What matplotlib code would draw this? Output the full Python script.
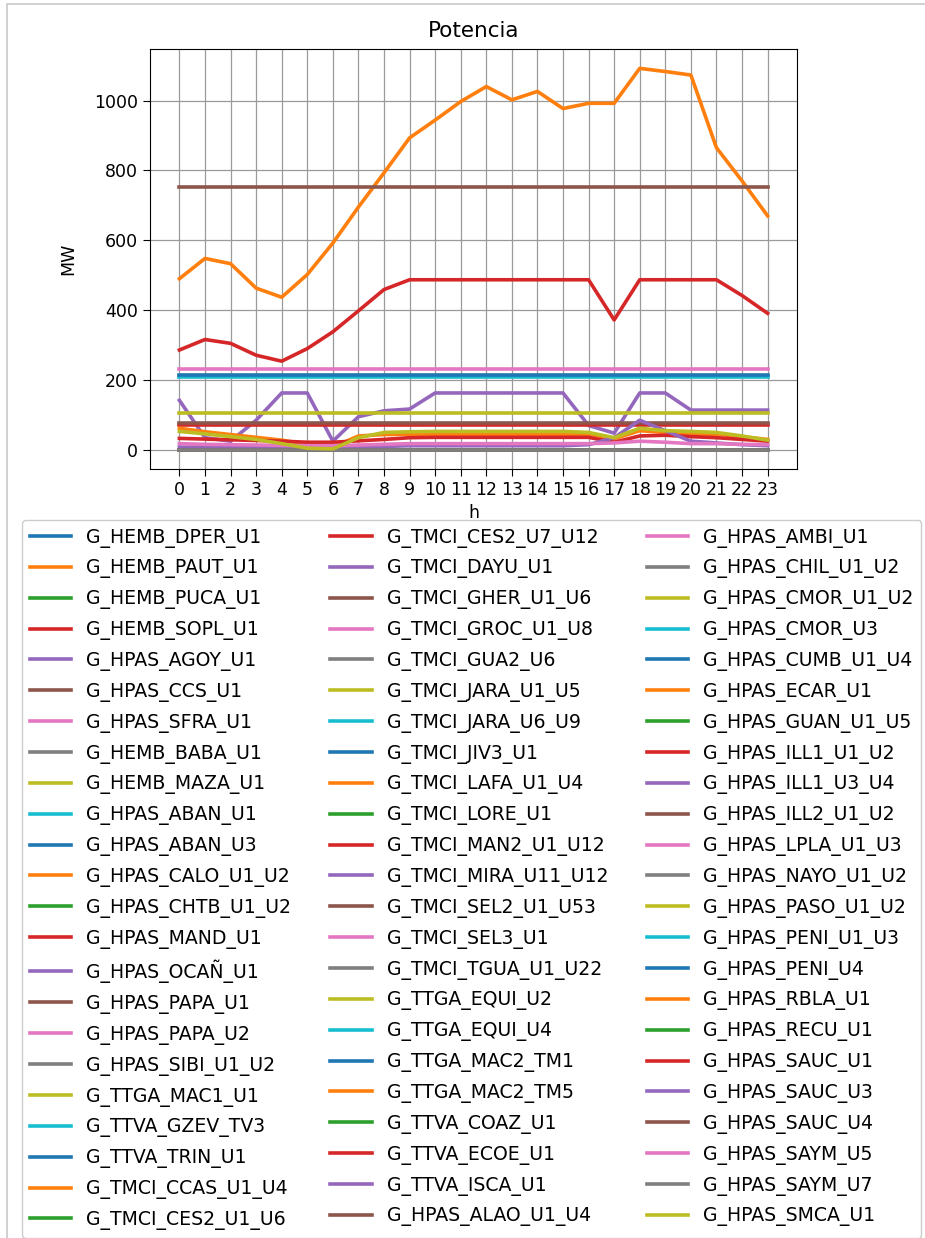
import matplotlib
matplotlib.use("Agg")
import matplotlib.pyplot as plt
from matplotlib.patches import Rectangle

# ---------------- data ----------------
hours = [0, 1, 2, 3, 4, 5, 6, 7, 8, 9, 10, 11, 12, 13, 14, 15, 16, 17, 18, 19, 20, 21, 22, 23]

names = [
    "G_HEMB_DPER_U1", "G_HEMB_PAUT_U1", "G_HEMB_PUCA_U1", "G_HEMB_SOPL_U1", "G_HPAS_AGOY_U1",
    "G_HPAS_CCS_U1", "G_HPAS_SFRA_U1", "G_HEMB_BABA_U1", "G_HEMB_MAZA_U1", "G_HPAS_ABAN_U1",
    "G_HPAS_ABAN_U3", "G_HPAS_CALO_U1_U2", "G_HPAS_CHTB_U1_U2", "G_HPAS_MAND_U1", "G_HPAS_OCAÑ_U1",
    "G_HPAS_PAPA_U1", "G_HPAS_PAPA_U2", "G_HPAS_SIBI_U1_U2", "G_TTGA_MAC1_U1", "G_TTVA_GZEV_TV3",
    "G_TTVA_TRIN_U1", "G_TMCI_CCAS_U1_U4", "G_TMCI_CES2_U1_U6",
    "G_TMCI_CES2_U7_U12", "G_TMCI_DAYU_U1", "G_TMCI_GHER_U1_U6", "G_TMCI_GROC_U1_U8", "G_TMCI_GUA2_U6",
    "G_TMCI_JARA_U1_U5", "G_TMCI_JARA_U6_U9", "G_TMCI_JIV3_U1", "G_TMCI_LAFA_U1_U4", "G_TMCI_LORE_U1",
    "G_TMCI_MAN2_U1_U12", "G_TMCI_MIRA_U11_U12", "G_TMCI_SEL2_U1_U53", "G_TMCI_SEL3_U1", "G_TMCI_TGUA_U1_U22",
    "G_TTGA_EQUI_U2", "G_TTGA_EQUI_U4", "G_TTGA_MAC2_TM1", "G_TTGA_MAC2_TM5", "G_TTVA_COAZ_U1",
    "G_TTVA_ECOE_U1", "G_TTVA_ISCA_U1", "G_HPAS_ALAO_U1_U4",
    "G_HPAS_AMBI_U1", "G_HPAS_CHIL_U1_U2", "G_HPAS_CMOR_U1_U2", "G_HPAS_CMOR_U3", "G_HPAS_CUMB_U1_U4",
    "G_HPAS_ECAR_U1", "G_HPAS_GUAN_U1_U5", "G_HPAS_ILL1_U1_U2", "G_HPAS_ILL1_U3_U4", "G_HPAS_ILL2_U1_U2",
    "G_HPAS_LPLA_U1_U3", "G_HPAS_NAYO_U1_U2", "G_HPAS_PASO_U1_U2", "G_HPAS_PENI_U1_U3", "G_HPAS_PENI_U4",
    "G_HPAS_RBLA_U1", "G_HPAS_RECU_U1", "G_HPAS_SAUC_U1", "G_HPAS_SAUC_U3", "G_HPAS_SAUC_U4",
    "G_HPAS_SAYM_U5", "G_HPAS_SAYM_U7", "G_HPAS_SMCA_U1",
]

zero_mw = [0, 0, 0, 0, 0, 0, 0, 0, 0, 0, 0, 0, 0, 0, 0, 0, 0, 0, 0, 0, 0, 0, 0, 0]

paut = [490, 548, 533, 463, 437, 502, 592, 695, 793, 893, 944, 997,
        1040, 1002, 1026, 977, 992, 992, 1092, 1083, 1073, 865, 770, 670]
sopl = [286, 316, 305, 271, 254, 290, 338, 398, 459, 487, 487, 487,
        487, 487, 487, 487, 487, 372, 487, 487, 487, 487, 442, 391]
ccs = [752, 752, 752, 752, 752, 752, 752, 752, 752, 752, 752, 752,
       752, 752, 752, 752, 752, 752, 752, 752, 752, 752, 752, 752]
sfra = [232, 232, 232, 232, 232, 232, 232, 232, 232, 232, 232, 232,
        232, 232, 232, 232, 232, 232, 232, 232, 232, 232, 232, 232]
trin = [215, 215, 215, 215, 215, 215, 215, 215, 215, 215, 215, 215,
        215, 215, 215, 215, 215, 215, 215, 215, 215, 215, 215, 215]
gzev = [208, 208, 208, 208, 208, 208, 208, 208, 208, 208, 208, 208,
        208, 208, 208, 208, 208, 208, 208, 208, 208, 208, 208, 208]
agoy = [142, 35, 25, 85, 163, 163, 25, 95, 112, 117, 163, 163,
        163, 163, 163, 163, 70, 48, 163, 163, 114, 114, 114, 114]
maza = [106, 106, 106, 106, 106, 106, 106, 106, 106, 106, 106, 106,
        106, 106, 106, 106, 106, 106, 106, 106, 106, 106, 106, 106]
gher = [76, 76, 76, 76, 76, 76, 76, 76, 76, 76, 76, 76,
        76, 76, 76, 76, 76, 76, 76, 76, 76, 76, 76, 76]
mand = [71, 71, 71, 71, 71, 71, 71, 71, 71, 71, 71, 71,
        71, 71, 71, 71, 71, 71, 71, 71, 71, 71, 71, 71]
smca = [53, 46, 38, 30, 18, 5, 3, 35, 50, 52, 53, 53,
        53, 53, 53, 53, 50, 35, 62, 55, 53, 50, 40, 28]
rbla = [62, 52, 44, 36, 28, 16, 8, 40, 44, 45, 45, 45,
        45, 45, 45, 45, 45, 32, 55, 50, 45, 45, 38, 30]
sauc_u1 = [33, 31, 29, 27, 25, 22, 22, 26, 30, 35, 36, 36,
           36, 36, 36, 36, 36, 22, 40, 42, 38, 35, 30, 25]
sauc_u3 = [8, 8, 8, 8, 8, 8, 8, 8, 10, 12, 12, 12,
           12, 12, 12, 12, 15, 35, 85, 55, 25, 20, 15, 12]
saym_u5 = [18, 16, 15, 14, 13, 12, 12, 14, 16, 18, 18, 18,
           18, 18, 18, 18, 18, 20, 25, 22, 18, 18, 16, 15]

series_values = {
    "G_HEMB_PAUT_U1": paut,
    "G_HEMB_SOPL_U1": sopl,
    "G_HPAS_AGOY_U1": agoy,
    "G_HPAS_CCS_U1": ccs,
    "G_HPAS_SFRA_U1": sfra,
    "G_HEMB_MAZA_U1": maza,
    "G_HPAS_MAND_U1": mand,
    "G_TTVA_GZEV_TV3": gzev,
    "G_TTVA_TRIN_U1": trin,
    "G_TMCI_GHER_U1_U6": gher,
    "G_HPAS_RBLA_U1": rbla,
    "G_HPAS_SAUC_U1": sauc_u1,
    "G_HPAS_SAUC_U3": sauc_u3,
    "G_HPAS_SAYM_U5": saym_u5,
    "G_HPAS_SMCA_U1": smca,
}

title = "Potencia"
xlabel = "h"
ylabel = "MW"

# ---------------- figure ----------------
W, H = 925, 1238
fig = plt.figure(figsize=(W / 100, H / 100), dpi=100)
ax = fig.add_axes([150 / W, 1 - 469 / H, 647 / W, (469 - 49.3) / H])

for name in names:
    ax.plot(hours, series_values.get(name, zero_mw), label=name, lw=2.6)

ax.set_xticks(hours)
ax.set_xticklabels([str(h) for h in hours])
ax.tick_params(labelsize=12.5, length=5)
ax.grid(True, color="#9a9a9a", lw=0.9)
ax.set_title(title, fontsize=15.5, pad=9)
ax.set_xlabel(xlabel, fontsize=12.5)
ax.set_ylabel(ylabel, fontsize=12.5, labelpad=12)
ax.set_ylim(-54.6, 1146.6)

ax.legend(loc="upper left", bbox_to_anchor=(22 / W, 1 - 520 / H),
          bbox_transform=fig.transFigure, ncol=3, fontsize=13.6,
          borderaxespad=0, handlelength=2.2, labelspacing=0.575,
          columnspacing=2.05, framealpha=1)

fig.patches.append(Rectangle((7 / W, -0.01), 1.0, 1 - 4 / H + 0.01,
                             transform=fig.transFigure, fill=False,
                             edgecolor="#c8c8c8", lw=1.2))

fig.savefig("out.png", dpi=100)
